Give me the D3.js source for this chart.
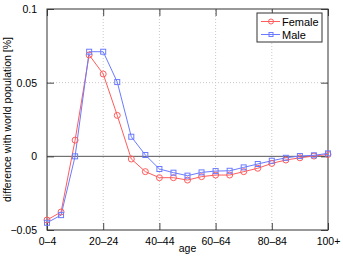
<!DOCTYPE html>
<html>
<head>
<meta charset="utf-8">
<script src="https://cdn.jsdelivr.net/npm/d3@7"></script>
<style>
body{margin:0;background:#fff;}
svg{display:block;font-family:"Liberation Sans",Arial,sans-serif;}
</style>
</head>
<body>
<div id="chart"></div>
<script>
// age groups 0-4 ... 95-99, 100+
var ages = ["0-4","5-9","10-14","15-19","20-24","25-29","30-34","35-39","40-44","45-49",
    "50-54","55-59","60-64","65-69","70-74","75-79","80-84","85-89","90-94","95-99","100+"];
var female = [-0.0432,-0.0378,0.011,0.0688,0.0559,0.0278,-0.0018,-0.0104,-0.0145,-0.0145,
    -0.0161,-0.0138,-0.0127,-0.0127,-0.0104,-0.0081,-0.0048,-0.0025,-0.001,0.0002,0.0013];
var male = [-0.0451,-0.0399,0.0,0.071,0.071,0.0504,0.0133,0.0009,-0.0086,-0.0111,
    -0.0131,-0.0109,-0.0100,-0.0098,-0.0075,-0.0052,-0.003,-0.001,0.0002,0.0007,0.002];
var xTickLabels = ["0-4","20-24","40-44","60-64","80-84","100+"];
var yTicks = [-0.05,0,0.05,0.1];

var width = 343, height = 258;
var margin = {left:47, right:15, top:9, bottom:28};
var color = {female:"#ff5c5c", male:"#6b7bff"};

var svg = d3.select("#chart").append("svg")
    .attr("width",width).attr("height",height);

var x = d3.scalePoint().domain(ages).range([margin.left, width-margin.right]);
var y = d3.scaleLinear().domain([-0.05,0.1]).range([height-margin.bottom, margin.top]);

var x0 = margin.left, x1 = width-margin.right, y0 = height-margin.bottom, y1 = margin.top;

// grid
var grid = svg.append("g");
grid.selectAll(".gx").data(xTickLabels.slice(1,-1)).enter().append("line")
    .attr("x1",function(d){return x(d);}).attr("x2",function(d){return x(d);})
    .attr("y1",y0).attr("y2",y1)
    .style("stroke","#c8c8c8").style("stroke-dasharray","1,2").style("stroke-width",1);
grid.selectAll(".gy").data([0.05]).enter().append("line")
    .attr("x1",x0).attr("x2",x1)
    .attr("y1",function(d){return y(d);}).attr("y2",function(d){return y(d);})
    .style("stroke","#c8c8c8").style("stroke-dasharray","1,2").style("stroke-width",1);

// zero line
svg.append("line")
    .attr("x1",x0).attr("x2",x1).attr("y1",y(0)).attr("y2",y(0))
    .style("stroke","#555").style("stroke-width",1);

// axes (matlab style, ticks inward on all sides)
var tl = 7;
var xAxisB = d3.axisBottom(x).tickValues(xTickLabels).tickSizeInner(-tl).tickSizeOuter(0).tickPadding(tl+1)
    .tickFormat(function(d){return d.replace("-","\u2013");});
var xAxisT = d3.axisTop(x).tickValues(xTickLabels).tickSizeInner(-tl).tickSizeOuter(0).tickFormat("");
var yAxisL = d3.axisLeft(y).tickValues(yTicks).tickSizeInner(-tl).tickSizeOuter(0).tickPadding(tl+3)
    .tickFormat(function(d){return d===0 ? "0" : String(d).replace("-","\u2212");});
var yAxisR = d3.axisRight(y).tickValues(yTicks).tickSizeInner(-tl).tickSizeOuter(0).tickFormat("");

function style(g){
    g.select(".domain").remove();
    g.selectAll(".tick line").style("stroke","#444");
    g.selectAll("text").style("font-size","10.5px").style("fill","#000");
}
svg.append("g").attr("transform","translate(0,"+y0+")").call(xAxisB).call(style);
svg.append("g").attr("transform","translate(0,"+y1+")").call(xAxisT).call(style);
svg.append("g").attr("transform","translate("+x0+",0)").call(yAxisL).call(style);
svg.append("g").attr("transform","translate("+x1+",0)").call(yAxisR).call(style);

// frame
svg.append("rect").attr("x",x0).attr("y",y1).attr("width",x1-x0).attr("height",y0-y1)
    .style("fill","none").style("stroke","#333").style("stroke-width",1);

// axis labels
svg.append("text").attr("x",(x0+x1)/2).attr("y",252).attr("text-anchor","middle")
    .style("font-size","10.5px").text("age");
svg.append("text").attr("transform","translate(11,"+((y0+y1)/2)+") rotate(-90)")
    .attr("text-anchor","middle").style("font-size","10.5px")
    .text("difference with world population [%]");

// series
var line = d3.line().x(function(d,i){return x(ages[i]);}).y(function(d){return y(d);});

svg.append("path").datum(female).attr("d",line)
    .style("fill","none").style("stroke",color.female).style("stroke-width",1);
svg.append("path").datum(male).attr("d",line)
    .style("fill","none").style("stroke",color.male).style("stroke-width",1);

svg.selectAll(".fm").data(female).enter().append("circle")
    .attr("cx",function(d,i){return x(ages[i]);}).attr("cy",function(d){return y(d);})
    .attr("r",3).style("fill","none").style("stroke",color.female);
svg.selectAll(".mm").data(male).enter().append("rect")
    .attr("x",function(d,i){return x(ages[i])-2.5;}).attr("y",function(d){return y(d)-2.5;})
    .attr("width",5).attr("height",5).style("fill","none").style("stroke",color.male);

// legend
var lg = svg.append("g").attr("transform","translate(257,13)");
lg.append("rect").attr("width",65).attr("height",29)
    .style("fill","#fff").style("stroke","#333").style("stroke-width",1);
lg.append("line").attr("x1",4).attr("x2",23).attr("y1",8.5).attr("y2",8.5).style("stroke",color.female);
lg.append("circle").attr("cx",14).attr("cy",8.5).attr("r",2.5).style("fill","none").style("stroke",color.female);
lg.append("text").attr("x",25).attr("y",12.5).style("font-size","11px").text("Female");
lg.append("line").attr("x1",4).attr("x2",23).attr("y1",21.5).attr("y2",21.5).style("stroke",color.male);
lg.append("rect").attr("x",12).attr("y",19.5).attr("width",4).attr("height",4).style("fill","none").style("stroke",color.male);
lg.append("text").attr("x",25).attr("y",25.5).style("font-size","11px").text("Male");
</script>
</body>
</html>
